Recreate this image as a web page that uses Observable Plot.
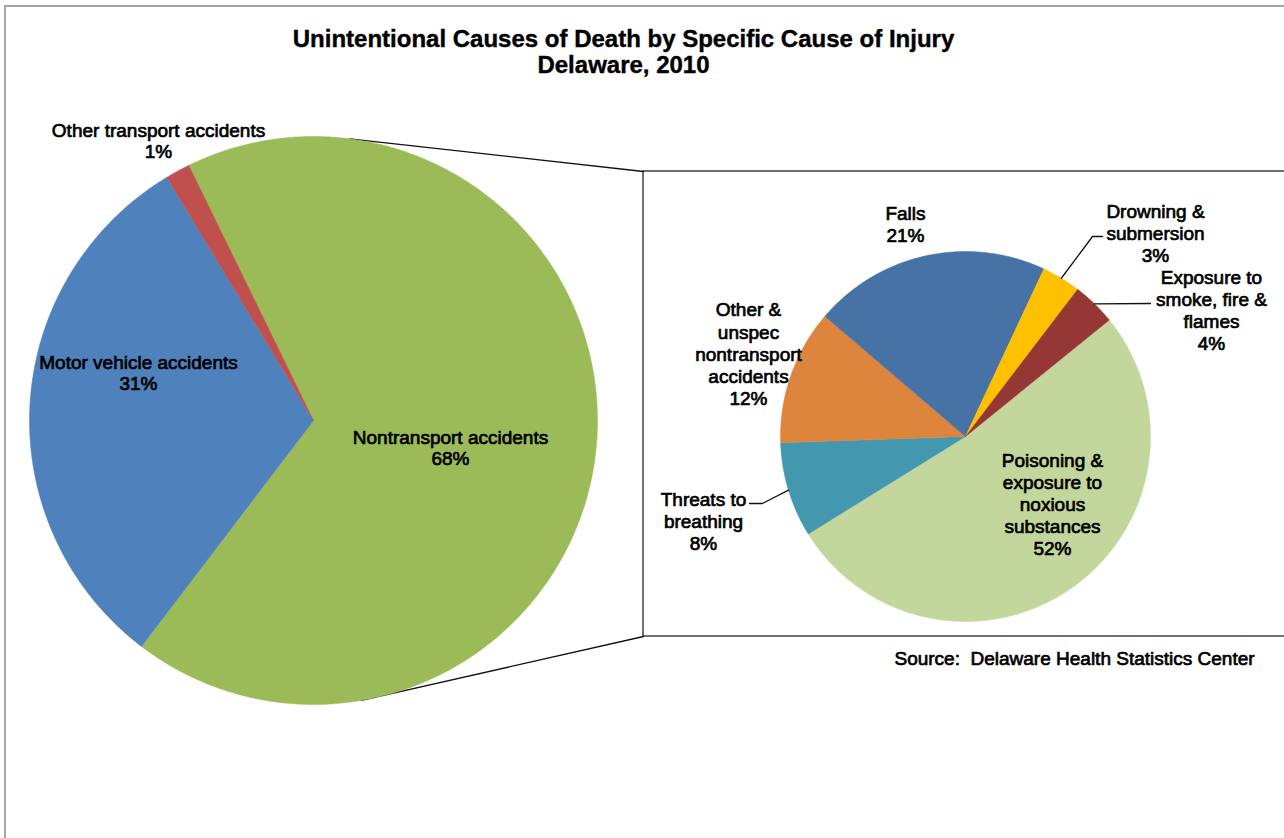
<!DOCTYPE html>
<html><head><meta charset="utf-8">
<script src="https://cdn.jsdelivr.net/npm/d3@7"></script>
<script src="https://cdn.jsdelivr.net/npm/@observablehq/plot@0.6"></script>
<style>
html,body{margin:0;padding:0;background:#fff;overflow:hidden}
#wrap{position:relative;width:1284px;height:838px;overflow:hidden}
#frame{position:absolute;left:4px;top:5px;width:1400px;height:1000px;border-left:2px solid #a6a6a6;border-top:2px solid #a6a6a6}
#chart{position:absolute;left:0;top:0}
</style></head><body>
<div id="wrap"><div id="frame"></div><div id="chart"></div></div>
<script>
// ---------- data ----------
const titleLines = ["Unintentional Causes of Death by Specific Cause of Injury", "Delaware, 2010"];
const mainCategories = ["Nontransport accidents", "Motor vehicle accidents", "Other transport accidents"];
const mainLabels = ["Nontransport accidents", "Motor vehicle accidents", "Other transport accidents"];
const mainValues = [67.6, 31.0, 1.4];
const mainColors = ["#9BBB59", "#4F81BD", "#C0504D"];
const subCategories = ["Poisoning & exposure to noxious substances", "Threats to breathing", "Other & unspec nontransport accidents", "Falls", "Drowning & submersion", "Exposure to smoke, fire & flames"];
const subLabels = ["Poisoning &\nexposure to\nnoxious\nsubstances", "Threats to\nbreathing", "Other &\nunspec\nnontransport\naccidents", "Falls", "Drowning &\nsubmersion", "Exposure to\nsmoke, fire &\nflames"];
const subValues = [52.0, 8.3, 11.8, 20.7, 3.4, 3.8];
const subColors = ["#C3D69B", "#4398B0", "#DD843D", "#4672A6", "#FFC000", "#943735"];
const sourceText = "Source:  Delaware Health Statistics Center";

// ---------- layout ----------
const W = 1284, H = 838;
const mainPie = {cx: 313, cy: 420, r: 284, start: -26.06};
const subPie = {cx: 965, cy: 436, r: 185, start: 51.0};
const mainLabelPos = [[450, 447.5], [138, 372.5], [158, 140]];
const subLabelPos = [[1052, 503.5], [703, 520.5], [748, 353], [905, 223.5], [1155, 232], [1211, 309]];
const leaders = [{i: 1, pts: [[762, 503], [749, 503]]}, {i: 4, pts: [[1092, 236], [1102, 236]]}, {i: 5, pts: [[1150, 303]]}];
const box = {left: 643, top: 171, right: 1300, bottom: 636};
const connectorAngles = [7.35, 170.3];
const font = "'Liberation Sans', Arial, sans-serif";

const rad = d => d * Math.PI / 180;
function pieSlices(values, cats, colors, pie) {
  const arcs = d3.pie().sort(null).startAngle(rad(pie.start)).endAngle(rad(pie.start) + 2 * Math.PI)(values);
  const pts = [];
  const meta = [];
  arcs.forEach((a, i) => {
    const key = cats[i];
    pts.push({key, color: colors[i], x: pie.cx, y: pie.cy});
    const n = Math.max(2, Math.ceil((a.endAngle - a.startAngle) / rad(0.5)));
    for (let k = 0; k <= n; k++) {
      const t = a.startAngle + (a.endAngle - a.startAngle) * k / n;
      pts.push({key, color: colors[i], x: pie.cx + pie.r * Math.sin(t), y: pie.cy - pie.r * Math.cos(t)});
    }
    pts.push({key, color: colors[i], x: pie.cx, y: pie.cy});
    const mid = (a.startAngle + a.endAngle) / 2;
    meta.push({mid, pct: Math.round(a.value / d3.sum(values) * 100) + "%"});
  });
  return {pts, meta};
}
const main = pieSlices(mainValues, mainCategories, mainColors, mainPie);
const sub = pieSlices(subValues, subCategories, subColors, subPie);

const mainText = mainLabels.map((l, i) => ({text: l + "\n" + main.meta[i].pct, x: mainLabelPos[i][0], y: mainLabelPos[i][1]}));
const subText = subLabels.map((l, i) => ({text: l + "\n" + sub.meta[i].pct, x: subLabelPos[i][0], y: subLabelPos[i][1]}));

const leaderPts = [];
leaders.forEach(({i, pts}) => {
  const m = sub.meta[i].mid;
  leaderPts.push({id: i, x: subPie.cx + subPie.r * Math.sin(m), y: subPie.cy - subPie.r * Math.cos(m)});
  pts.forEach(p => leaderPts.push({id: i, x: p[0], y: p[1]}));
});

const connectors = [];
connectorAngles.forEach((ang, j) => {
  connectors.push({id: j, x: mainPie.cx + mainPie.r * Math.sin(rad(ang)), y: mainPie.cy - mainPie.r * Math.cos(rad(ang))});
  connectors.push({id: j, x: box.left, y: j === 0 ? box.top : box.bottom});
});

const textStyle = {fontFamily: font, fontSize: 19, fill: "black", stroke: "black", strokeWidth: 0.7};

const chart = Plot.plot({
  width: W, height: H, margin: 0,
  x: {domain: [0, W], range: [0, W], axis: null},
  y: {domain: [0, H], range: [0, H], axis: null},
  style: {background: "transparent"},
  marks: [
    Plot.rect([box], {x1: "left", x2: "right", y1: "top", y2: "bottom", fill: "white", stroke: "#262626", strokeWidth: 1.3}),
    Plot.line(connectors, {x: "x", y: "y", z: "id", stroke: "#111", strokeWidth: 1.3}),
    Plot.line(main.pts, {x: "x", y: "y", z: "key", fill: "color", stroke: "color", strokeWidth: 0.5}),
    Plot.line(sub.pts, {x: "x", y: "y", z: "key", fill: "color", stroke: "color", strokeWidth: 0.5}),
    Plot.line(leaderPts, {x: "x", y: "y", z: "id", stroke: "#111", strokeWidth: 1.3}),
    Plot.text([titleLines.join("\n")], {x: 623, y: 51, text: d => d, fontFamily: font, fontWeight: "bold", fontSize: 24, lineHeight: 1.08, fill: "black", stroke: "black", strokeWidth: 0.4}),
    Plot.text(mainText, {x: "x", y: "y", text: "text", lineHeight: 1.1, ...textStyle}),
    Plot.text(subText, {x: "x", y: "y", text: "text", lineHeight: 1.16, ...textStyle}),
    Plot.text([sourceText], {x: 1074, y: 658, text: d => d, ...textStyle})
  ]
});
document.getElementById("chart").appendChild(chart);
</script>
</body></html>
